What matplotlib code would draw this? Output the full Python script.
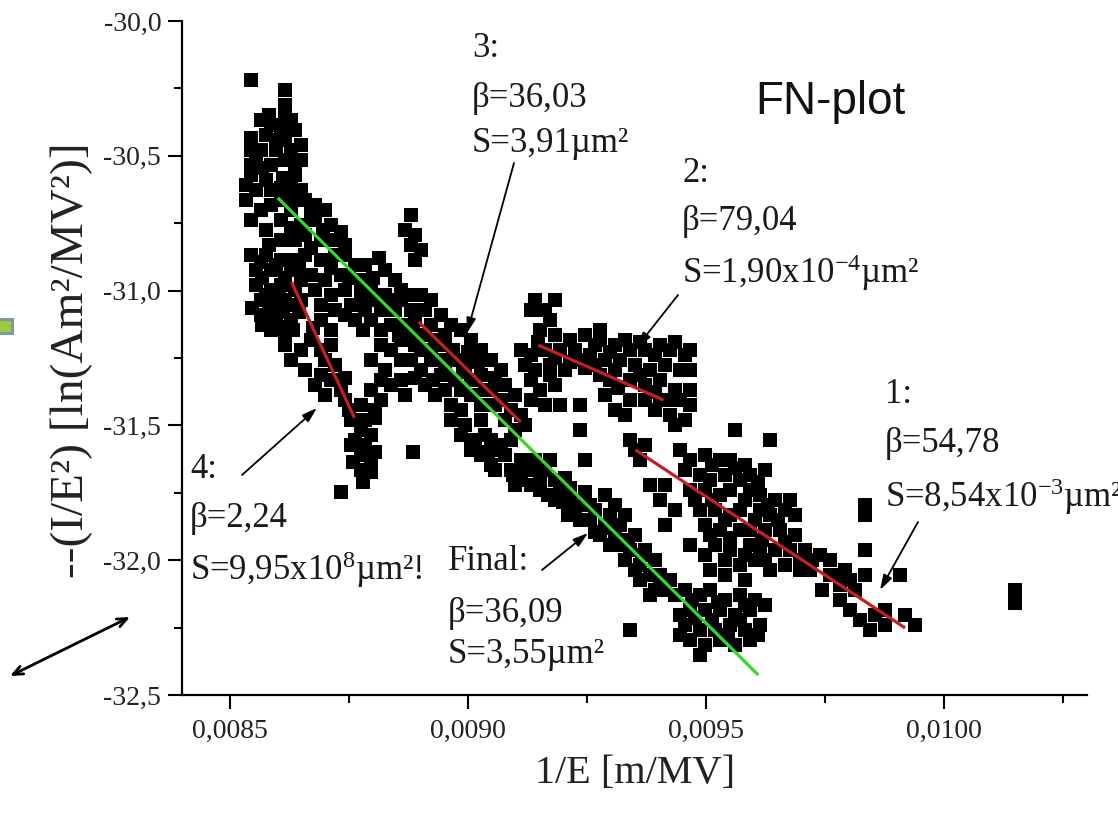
import numpy as np
import matplotlib
matplotlib.use("Agg")
import matplotlib.pyplot as plt
from matplotlib.ticker import MultipleLocator, FuncFormatter
from matplotlib.patches import Rectangle

plt.rcParams['mathtext.fontset'] = 'custom'
plt.rcParams['mathtext.rm'] = 'Liberation Serif'
plt.rcParams['mathtext.default'] = 'rm'

SERIF = ['Liberation Serif', 'DejaVu Serif']

# 1/E in units of 1e-4 m/MV, ln(I/E^2) -- grouped by cluster
peak_x = [85.44, 86.17, 86.17, 85.65, 85.86, 86.28, 86.38, 85.76, 86.17, 85.44,
          85.65, 85.97, 86.28, 86.49, 85.55, 85.86, 86.17, 86.49, 85.44, 85.76,
          86.38, 85.55, 85.86, 86.49, 85.34, 85.65, 85.44, 86.07, 86.28, 86.59,
          86.80, 87.01, 86.07, 86.49, 86.80, 87.12, 85.76, 86.07, 86.38, 86.59,
          86.91, 87.22,
          86.07, 85.44, 85.97, 86.11, 85.44, 85.69, 86.28, 86.07, 86.38, 85.34,
          85.82, 86.17,
          85.86, 86.38, 86.70, 86.28, 86.95, 87.33, 85.82, 86.70, 87.43]
peak_y = [-30.219, -30.256, -30.312, -30.367, -30.386, -30.367, -30.404, -30.423, -30.441, -30.478,
          -30.478, -30.478, -30.478, -30.460, -30.516, -30.534, -30.516, -30.516, -30.571, -30.590,
          -30.571, -30.627, -30.627, -30.627, -30.664, -30.701, -30.738, -30.664, -30.701, -30.664,
          -30.682, -30.701, -30.738, -30.757, -30.738, -30.757, -30.775, -30.812, -30.812, -30.794,
          -30.812, -30.812,
          -30.397, -30.434, -30.441, -30.582, -30.534, -30.545, -30.608, -30.619, -30.523, -30.608,
          -30.349, -30.349,
          -30.682, -30.656, -30.708, -30.768, -30.775, -30.783, -30.831, -30.842, -30.831]

blob_x = [85.44, 85.76, 86.07, 86.28, 86.59, 85.55, 85.86, 86.28, 86.91, 87.22,
          87.43, 87.64, 87.85, 87.75, 88.27, 88.48, 86.70, 87.01, 87.33, 85.55,
          85.86, 86.07, 86.38, 85.65, 85.86, 86.17, 85.65, 85.97, 86.28, 85.86,
          86.17, 86.80, 87.12, 86.91, 87.22, 86.91, 87.43, 87.75, 87.96, 88.27,
          88.59, 87.54, 87.85, 88.17, 88.48, 88.80, 87.64, 87.96, 88.38, 88.69,
          88.90,
          88.80, 88.69, 88.90, 88.80, 89.01, 88.90,
          85.65, 85.97, 86.45, 85.69, 86.17, 86.49, 85.76, 86.03, 86.32, 86.49,
          85.48, 85.82, 86.11, 86.45, 85.69, 86.03, 86.32,
          87.12, 87.50, 88.00, 88.13, 88.59, 88.80, 87.75, 88.06, 88.38, 87.43,
          87.79, 88.17, 88.55, 88.84]
blob_y = [-30.868, -30.868, -30.886, -30.886, -30.868, -30.924, -30.924, -30.924, -30.886, -30.868,
          -30.868, -30.905, -30.905, -30.961, -30.924, -30.961, -30.942, -30.961, -30.942, -30.979,
          -30.998, -30.979, -30.998, -31.035, -31.053, -31.035, -31.090, -31.109, -31.109, -31.146,
          -31.165, -30.998, -31.016, -31.053, -31.072, -31.109, -30.998, -30.998, -30.998, -31.016,
          -31.035, -31.053, -31.072, -31.072, -31.072, -31.072, -31.109, -31.109, -31.128, -31.128,
          -31.109,
          -30.720, -30.775, -30.794, -30.831, -30.849, -30.886,
          -30.894, -30.905, -30.916, -30.953, -30.953, -30.961, -31.016, -31.027, -31.053, -31.035,
          -31.064, -31.079, -31.079, -31.079, -31.128, -31.135, -31.146,
          -30.916, -30.953, -30.953, -30.879, -30.998, -31.016, -31.035, -31.035, -31.035, -31.090,
          -31.146, -31.146, -31.165, -31.146]

band_x = [86.17, 86.49, 86.28, 86.59, 86.70, 86.91, 87.01, 86.91, 87.12, 87.33,
          86.80, 87.01, 87.12, 88.17, 88.38, 87.96, 88.27, 88.17, 87.96, 88.38,
          88.17, 88.06, 88.59, 88.80, 89.11, 89.01, 89.22, 89.53, 88.80, 89.22,
          89.43, 89.74, 89.95, 89.43, 89.74, 90.06, 90.27, 89.85, 88.59, 88.59,
          88.69, 89.01, 89.11, 89.32, 89.53, 89.43, 89.64, 89.85, 89.22, 89.11,
          89.53, 90.06, 90.27, 90.48, 90.69, 90.79, 91.00, 90.90, 90.69, 90.48,
          91.11, 91.21, 89.01, 89.22,
          88.90, 89.32, 89.68, 90.01, 90.22, 89.53, 89.89, 88.90, 89.26, 90.06,
          90.37, 90.58, 90.27, 90.58, 90.79, 91.00, 86.74, 87.12, 87.22, 87.43,
          87.43, 87.75, 87.54, 87.85, 87.75, 87.96, 87.64, 87.85, 87.75, 87.96,
          87.75, 88.86, 87.79, 87.33,
          87.50, 88.06, 87.54, 88.06, 87.58, 87.96]
band_y = [-31.202, -31.220, -31.257, -31.294, -31.183, -31.220, -31.257, -31.313, -31.332, -31.369,
          -31.350, -31.387, -31.146, -31.202, -31.220, -31.257, -31.294, -31.332, -31.369, -31.350,
          -31.406, -31.443, -31.183, -31.183, -31.165, -31.220, -31.220, -31.202, -31.257, -31.257,
          -31.257, -31.257, -31.276, -31.313, -31.332, -31.332, -31.313, -31.369, -31.257, -31.332,
          -31.387, -31.294, -31.350, -31.387, -31.369, -31.090, -31.128, -31.146, -31.128, -31.072,
          -31.165, -31.183, -31.220, -31.257, -31.294, -31.350, -31.387, -31.443, -31.406, -31.369,
          -31.461, -31.498, -31.016, -31.035,
          -31.202, -31.183, -31.220, -31.228, -31.265, -31.287, -31.302, -31.324, -31.332, -31.387,
          -31.369, -31.324, -31.424, -31.424, -31.480, -31.517, -31.139, -31.202, -31.276, -31.324,
          -31.406, -31.424, -31.480, -31.480, -31.517, -31.536, -31.554, -31.573, -31.610, -31.628,
          -31.665, -31.599, -31.710, -31.747,
          -31.443, -31.472, -31.573, -31.599, -31.636, -31.673]

final_x = [89.64, 89.85, 89.64, 89.95, 90.27, 89.85, 90.06, 90.37, 90.06, 90.27,
           90.48, 90.69, 90.90, 90.79, 91.11, 91.32, 91.63, 91.84, 91.11, 91.52,
           91.94, 92.15, 92.36, 92.68, 92.36, 92.57, 92.89, 92.78, 93.10, 93.20,
           93.41, 93.31, 93.62, 93.83, 93.62, 93.94, 94.15, 92.99, 92.89, 93.10,
           93.31, 93.41, 92.47, 92.36, 92.36,
           90.58, 90.48, 90.58, 90.90, 91.00, 91.32, 91.42, 91.73, 92.05, 91.84,
           92.15, 92.47, 92.57, 92.11, 92.68, 92.99, 93.20, 93.52, 93.73, 93.94,
           93.52, 94.04, 94.25, 94.36, 93.83,
           90.16, 90.43, 90.94, 91.21, 91.52, 91.69, 91.99, 92.26, 93.04, 93.37,
           93.66, 94.04]
final_y = [-31.424, -31.443, -31.480, -31.498, -31.480, -31.536, -31.554, -31.536, -31.591, -31.610,
           -31.647, -31.573, -31.554, -31.610, -31.628, -31.665, -31.665, -31.702, -31.702, -31.740,
           -31.740, -31.777, -31.795, -31.814, -31.851, -31.851, -31.869, -31.906, -31.906, -31.944,
           -31.962, -31.999, -32.018, -32.055, -32.073, -32.110, -32.110, -31.944, -31.758, -31.795,
           -31.832, -32.259, -31.628, -31.517, -31.424,
           -31.591, -31.554, -31.665, -31.665, -31.721, -31.721, -31.628, -31.628, -31.695, -31.777,
           -31.732, -31.747, -31.795, -31.832, -31.895, -31.832, -31.869, -31.906, -31.962, -31.999,
           -32.036, -32.055, -32.073, -32.129, -32.129,
           -31.573, -31.599, -31.684, -31.665, -31.695, -31.758, -31.784, -31.814, -31.881, -31.925,
           -31.981, -32.092]

upper_x = [91.42, 91.84, 91.32, 91.73, 91.52, 91.84, 91.11, 91.32, 91.63, 91.94,
           91.21, 91.42, 91.73, 92.05, 92.36, 91.32, 91.52, 91.84, 91.63, 91.32,
           91.94, 92.15, 92.47, 92.78, 93.10, 93.41, 93.73, 94.04, 94.25, 94.57,
           92.26, 92.57, 92.89, 93.20, 93.52, 93.83, 94.15, 94.46, 94.67, 92.78,
           92.99, 93.41, 93.73, 94.04, 94.36, 94.67, 93.41, 93.73, 94.04, 94.46,
           94.67, 93.94, 94.25, 94.57, 92.89, 93.10, 93.31, 92.78, 94.36, 95.62,
           96.35,
           91.63, 91.48, 91.84, 92.15, 92.47, 92.68, 92.99, 93.31, 93.62, 93.94,
           94.36, 94.67, 92.68, 93.10, 93.62, 93.94, 94.25, 93.16, 91.73]
upper_y = [-31.035, -31.035, -31.072, -31.109, -31.146, -31.165, -31.220, -31.239, -31.220, -31.220,
           -31.276, -31.294, -31.276, -31.294, -31.257, -31.332, -31.369, -31.350, -31.424, -31.406,
           -31.424, -31.183, -31.165, -31.183, -31.202, -31.220, -31.220, -31.202, -31.220, -31.239,
           -31.220, -31.239, -31.257, -31.257, -31.276, -31.294, -31.276, -31.294, -31.294, -31.313,
           -31.332, -31.332, -31.350, -31.332, -31.369, -31.369, -31.406, -31.406, -31.406, -31.406,
           -31.424, -31.443, -31.461, -31.480, -31.387, -31.443, -31.461, -31.146, -31.498, -31.517,
           -31.554,
           -31.072, -31.191, -31.250, -31.265, -31.287, -31.202, -31.228, -31.183, -31.191, -31.239,
           -31.191, -31.220, -31.276, -31.294, -31.313, -31.376, -31.406, -31.361, -31.313]

right_x = [93.41, 93.73, 93.62, 93.52, 93.83, 94.04, 94.36, 94.15, 94.15, 94.46,
           94.67, 94.99, 95.30, 95.51, 95.83, 94.57, 94.88, 95.09, 95.41, 95.72,
           95.93, 96.25, 94.67, 94.99, 95.30, 95.51, 95.93, 96.14, 96.46, 94.88,
           95.20, 95.51, 95.72, 96.14, 96.35, 96.66, 94.99, 95.30, 95.72, 95.93,
           96.25, 96.56, 96.87, 95.20, 95.51, 95.93, 96.14, 96.46, 96.77, 95.41,
           95.72, 96.04, 96.35, 96.66, 96.98, 97.08, 97.40, 97.61, 97.92, 97.19,
           97.61, 97.82, 98.13, 96.98, 97.82, 98.03, 98.24, 98.55, 98.76, 98.76,
           99.18, 99.39, 98.45, 98.34, 98.34, 98.34, 98.34, 99.08, 96.77, 96.87,
           101.49, 101.49,
           95.13, 95.62, 96.10, 94.78, 95.13, 95.83, 96.31, 95.41, 96.04, 96.52,
           95.09, 95.51, 96.18, 96.66, 95.83, 96.25, 95.09, 95.41, 95.83, 94.99,
           94.67, 97.23, 97.78, 98.03, 97.44]
right_y = [-31.554, -31.573, -31.628, -31.591, -31.721, -31.777, -31.814, -31.721, -31.869, -31.591,
           -31.628, -31.610, -31.628, -31.628, -31.647, -31.665, -31.684, -31.702, -31.684, -31.702,
           -31.684, -31.665, -31.740, -31.740, -31.758, -31.740, -31.740, -31.758, -31.777, -31.814,
           -31.814, -31.832, -31.814, -31.814, -31.832, -31.814, -31.869, -31.888, -31.888, -31.888,
           -31.888, -31.888, -31.906, -31.944, -31.962, -31.944, -31.962, -31.962, -31.962, -31.999,
           -32.018, -31.999, -32.036, -32.018, -32.036, -31.962, -31.981, -31.999, -32.036, -32.036,
           -32.055, -32.092, -32.110, -31.999, -32.148, -32.185, -32.222, -32.203, -32.185, -32.240,
           -32.203, -32.240, -32.259, -31.795, -31.832, -31.962, -32.055, -32.055, -31.777, -31.832,
           -32.110, -32.159,
           -31.647, -31.658, -31.710, -31.777, -31.777, -31.777, -31.795, -31.851, -31.851, -31.851,
           -31.906, -31.918, -31.925, -31.932, -31.981, -31.999, -32.036, -32.055, -32.073, -31.981,
           -31.944, -31.999, -32.055, -32.073, -32.110]

bottom_x = [94.57, 94.88, 95.09, 95.41, 95.72, 96.04, 94.67, 94.99, 95.30, 95.62,
            95.93, 96.25, 94.57, 94.88, 95.20, 95.51, 95.83, 96.14, 94.67, 94.99,
            95.30, 95.62, 95.93, 94.88, 94.46, 94.46,
            94.71, 95.26, 95.83, 95.13, 95.72, 94.78, 95.47, 96.10]
bottom_y = [-32.110, -32.129, -32.110, -32.148, -32.129, -32.148, -32.185, -32.185, -32.185, -32.203,
            -32.185, -32.166, -32.240, -32.259, -32.259, -32.240, -32.259, -32.240, -32.296, -32.314,
            -32.296, -32.314, -32.296, -32.351, -32.203, -32.277,
            -32.148, -32.155, -32.166, -32.222, -32.222, -32.214, -32.277, -32.277]

# linear FN fits: (x0, y0, x1, y1), x in 1e-4 m/MV
fit_final = (86.01, -30.656, 96.10, -32.426)
fit_red = [
    (86.30, -30.968, 87.62, -31.472),   # 4
    (88.97, -31.116, 91.11, -31.487),   # 3
    (91.48, -31.202, 94.11, -31.406),   # 2
    (93.52, -31.591, 99.18, -32.251),   # 1
]

W, H = 1118, 814


def fp(x, y):
    # pixel position (from top-left) -> figure fraction
    return x / W, 1 - y / H


fig = plt.figure(figsize=(W / 100, H / 100), dpi=100)
ax = fig.add_axes([182 / W, 1 - 695 / H, (1087 - 182) / W, (695 - 21) / H])

xs = np.concatenate([peak_x, blob_x, band_x, final_x, upper_x, right_x, bottom_x]) * 1e-4
ys = np.concatenate([peak_y, blob_y, band_y, final_y, upper_y, right_y, bottom_y])
ax.scatter(xs, ys, marker='s', s=100, c='black', linewidths=0, zorder=2)

for x0, y0, x1, y1 in fit_red:
    ax.plot([x0 * 1e-4, x1 * 1e-4], [y0, y1], color='#c42021', lw=2.3, zorder=3,
            solid_capstyle='butt')
x0, y0, x1, y1 = fit_final
ax.plot([x0 * 1e-4, x1 * 1e-4], [y0, y1], color='#36d62a', lw=2.3, zorder=4,
        solid_capstyle='butt')

ax.set_xlim(0.0084, 0.0103)
ax.set_ylim(-32.5, -30.0)
ax.xaxis.set_major_locator(MultipleLocator(0.0005))
ax.xaxis.set_minor_locator(MultipleLocator(0.00025))
ax.yaxis.set_major_locator(MultipleLocator(0.5))
ax.yaxis.set_minor_locator(MultipleLocator(0.25))
ax.xaxis.set_major_formatter(FuncFormatter(lambda v, p: f"{v:.4f}".replace('.', ',')))
ax.yaxis.set_major_formatter(FuncFormatter(lambda v, p: f"{v:.1f}".replace('.', ',')))
for s in ['top', 'right']:
    ax.spines[s].set_visible(False)
for s in ['left', 'bottom']:
    ax.spines[s].set_linewidth(1.6)
ax.tick_params(which='major', length=10, width=1.5, direction='out', labelsize=20,
               labelcolor='#222222')
ax.tick_params(which='minor', length=6, width=1.5, direction='out')
ax.tick_params(axis='x', pad=7)
ax.tick_params(axis='y', pad=5)
for lab in ax.get_xticklabels() + ax.get_yticklabels():
    lab.set_family(SERIF)

# axis titles
fig.text(*fp(635, 783), "1/E [m/MV]", family=SERIF, fontsize=29, ha='center',
         va='baseline', color='#222222')
fig.text(*fp(72, 360), "--(I/E²) [ln(Am²/MV²)]", family=SERIF, fontsize=34,
         rotation=90, ha='center', va='center', color='#222222')

fig.text(*fp(755, 114), "FN-plot", family=['Liberation Sans', 'DejaVu Sans'],
         fontsize=33, va='baseline', color='#111111')

# fit annotations: (left, baseline) in pixels, lines of text
notes = [
    (472, [(57, "3:"), (107, "β=36,03"), (152, "S=3,91µm²")]),
    (682, [(182, "2:"), (230, "β=79,04"), (283, r"S=1,90x10$^{-4}$µm²")]),
    (885, [(403, "1:"), (452, "β=54,78"), (507, r"S=8,54x10$^{-3}$µm²")]),
    (190, [(478, "4:"), (527, "β=2,24"), (580, r"S=9,95x10$^{8}$µm²!")]),
    (448, [(570, "Final:"), (622, "β=36,09"), (663, "S=3,55µm²")]),
]
for x, lines in notes:
    for y, txt in lines:
        fig.text(*fp(x, y), txt, family=SERIF, fontsize=25, va='baseline',
                 color='#1a1a1a')

arrows = [
    ((514, 163), (467, 333)),
    ((678, 295), (637, 347)),
    ((918, 522), (880, 590)),
    ((242, 475), (317, 408)),
    ((542, 570), (588, 533)),
]
for start, tip in arrows:
    ax.annotate('', xy=fp(*tip), xytext=fp(*start), xycoords='figure fraction',
                textcoords='figure fraction',
                arrowprops=dict(arrowstyle='-|>,head_length=0.9,head_width=0.28',
                                color='black', lw=1.3, shrinkA=0, shrinkB=0),
                zorder=5)

# slide leftovers: double arrow and small marker square
ax.annotate('', xy=fp(10, 676), xytext=fp(130, 617), xycoords='figure fraction',
            textcoords='figure fraction',
            arrowprops=dict(arrowstyle='<->,head_length=0.7,head_width=0.3',
                            color='black', lw=2, shrinkA=0, shrinkB=0),
            annotation_clip=False)
fig.patches.append(Rectangle(fp(-4, 333), 16 / W, 14 / H, transform=fig.transFigure,
                             facecolor='#9ccc3c', edgecolor='#8096a6', lw=2.2))

fig.savefig("out.png", dpi=100)
